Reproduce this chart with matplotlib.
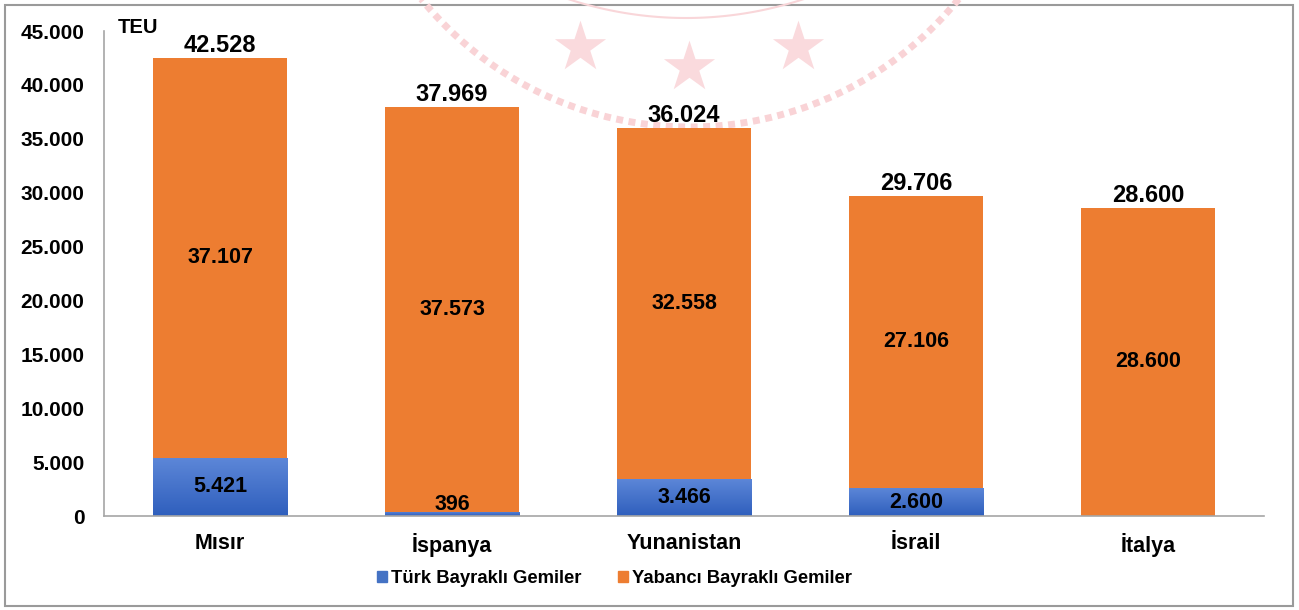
import numpy as np
import matplotlib
matplotlib.use("Agg")
import matplotlib.pyplot as plt
from matplotlib.patches import Rectangle

plt.rcParams['font.family'] = ['Liberation Sans', 'DejaVu Sans']
plt.rcParams['font.weight'] = 'bold'

countries = ['Mısır', 'İspanya', 'Yunanistan', 'İsrail', 'İtalya']
turk = [5421, 396, 3466, 2600, 0]
yabanci = [37107, 37573, 32558, 27106, 28600]
totals = [42528, 37969, 36024, 29706, 28600]
series_names = ['Türk Bayraklı Gemiler', 'Yabancı Bayraklı Gemiler']

blue = '#4472C4'
orange = '#ED7D31'


def fmt(v):
    return f"{v:,}".replace(',', '.')


fig = plt.figure(figsize=(12.99, 6.10), dpi=100)

# faint seal watermark behind the chart (pixel coords)
bg = fig.add_axes([0, 0, 1, 1], zorder=0)
bg.set_xlim(0, 1299)
bg.set_ylim(610, 0)
bg.axis('off')
t = np.linspace(np.radians(36), np.radians(144), 300)
bg.plot(690 + 346 * np.cos(t), -219 + 346 * np.sin(t), color='#f9d3d6',
        lw=5, dashes=(1.0, 0.8))
t2 = np.linspace(np.radians(60), np.radians(120), 100)
bg.plot(686 + 376 * np.cos(t2), -358 + 376 * np.sin(t2), color='#f9d6d9', lw=1.5)
bg.scatter([580, 689, 798], [47, 67, 47], marker='*', s=1500,
           color='#fadadd', linewidths=0)
bg.add_patch(Rectangle((5, 5), 1288, 601, fill=False, edgecolor='#9a9a9a', lw=1.5))

ax = fig.add_axes([0.0801, 0.154, 0.8931, 0.795], zorder=1)
ax.patch.set_alpha(0)

x = np.arange(len(countries))
w = 0.578
b1 = ax.bar(x, turk, w, color=blue, label=series_names[0], zorder=2)
b2 = ax.bar(x, yabanci, w, bottom=turk, color=orange, label=series_names[1], zorder=2)

# vertical gradient on the blue segments
grad = np.linspace(0, 1, 100).reshape(-1, 1)
cmap = matplotlib.colors.LinearSegmentedColormap.from_list('b', ['#2f5fbd', '#5d87d8'])
for bar, v in zip(b1, turk):
    if v <= 0:
        continue
    bar.set_alpha(0)
    bx, by = bar.get_x(), bar.get_y()
    im = ax.imshow(grad, extent=[bx, bx + bar.get_width(), by, by + v],
                   origin='lower', aspect='auto', cmap=cmap, zorder=2)
    im.set_clip_path(bar)

ax.set_xlim(-0.5, len(countries) - 0.5)
ax.set_ylim(0, 45000)
ax.set_yticks(np.arange(0, 45001, 5000))
ax.set_yticklabels([fmt(v) for v in range(0, 45001, 5000)], fontsize=15, fontweight='bold')
ax.set_xticks(x)
ax.set_xticklabels(countries, fontsize=15.5, fontweight='bold')
ax.tick_params(axis='y', length=0, pad=14)
ax.tick_params(axis='x', length=0, pad=12)
for s in ['top', 'right']:
    ax.spines[s].set_visible(False)
for s in ['left', 'bottom']:
    ax.spines[s].set_color('#a6a6a6')
    ax.spines[s].set_linewidth(1.2)

for i in range(len(countries)):
    if turk[i] > 0:
        ax.text(x[i], max(turk[i] / 2, 1100), fmt(turk[i]), ha='center', va='center',
                fontsize=15.5, fontweight='bold', zorder=3)
    ax.text(x[i], turk[i] + yabanci[i] / 2, fmt(yabanci[i]), ha='center', va='center',
            fontsize=15.5, fontweight='bold', zorder=3)
    ax.text(x[i], totals[i] + 60, fmt(totals[i]), ha='center', va='bottom',
            fontsize=17, fontweight='bold', zorder=3)

ax.text(0.012, 1.008, 'TEU', transform=ax.transAxes, ha='left', va='center',
        fontsize=14.5, fontweight='bold')

h = [Rectangle((0, 0), 1, 1, color=blue), Rectangle((0, 0), 1, 1, color=orange)]
fig.legend(h, series_names, loc='center', bbox_to_anchor=(0.473, 0.052), ncol=2,
           frameon=False, prop={'size': 13.3, 'weight': 'bold'},
           handlelength=0.55, handleheight=0.55, handletextpad=0.22, columnspacing=1.95)

fig.savefig('out.png', dpi=100)
